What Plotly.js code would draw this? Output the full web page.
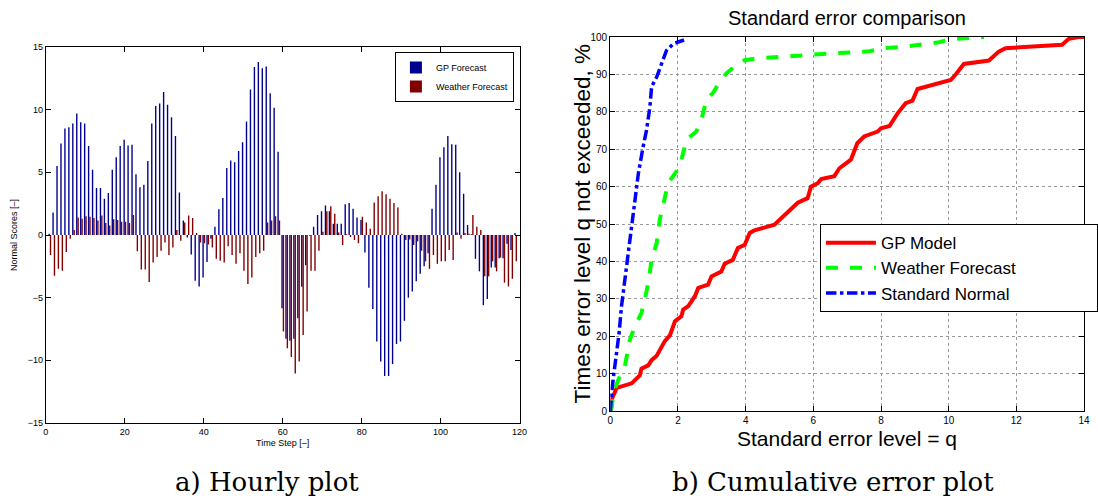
<!DOCTYPE html>
<html>
<head>
<meta charset="utf-8">
<script src="https://cdn.plot.ly/plotly-3.0.1.min.js"></script>
<style>html,body{margin:0;padding:0;background:#fff;}#chart{width:1098px;height:502px;}</style>
</head>
<body>
<div id="chart"></div>
<script>
// ---- Left panel: hourly normal scores ----
const timeSteps = [1,2,3,4,5,6,7,8,9,10,11,12,13,14,15,16,17,18,19,20,21,22,23,24,25,26,27,28,29,30,
31,32,33,34,35,36,37,38,39,40,41,42,43,44,45,46,47,48,49,50,51,52,53,54,55,56,57,58,59,60,
61,62,63,64,65,66,67,68,69,70,71,72,73,74,75,76,77,78,79,80,81,82,83,84,85,86,87,88,89,90,
91,92,93,94,95,96,97,98,99,100,101,102,103,104,105,106,107,108,109,110,111,112,113,114,115,116,117,118,119];

const gpForecast = [0.1,
1.8,5.5,7.3,8.5,8.6,8.9,9.7,9.0,8.9,7.1,5.2,3.75,3.75,2.9,3.35,5.2,6.2,7.1,7.6,7.15,7.2,4.85,3.8,4.0,5.9,8.9,10.3,10.5,11.4,
10.4,9.4,7.9,3.4,1.15,-0.2,-1.55,-3.65,-4.1,-3.4,-2.15,-0.3,0.65,2.05,2.95,5.35,5.95,5.8,6.7,7.4,9.05,11.6,13.4,13.8,13.3,13.45,11.3,10.15,6.65,-5.85,
-8.27,-8.43,-8.27,-6.65,-4.12,-2.42,
-0.05,
0.66,1.6,1.9,2.35,1.9,0.9,0.9,0.9,2.45,2.55,2.1,1.4,1.2,
-1.4,-4.2,-5.9,-8.5,-10.1,-11.25,-11.25,-10.3,-8.7,-8.5,-6.85,-5.0,-4.5,-3.7,-3.1,-2.5,-1.45,
2.1,4.0,6.2,7.0,7.9,7.25,7.2,5.0,3.3,0.8,0.05,
-1.9,-2.9,-5.6,-5.1,-2.6,-2.6,-1.85,-1.85,-0.7,-1.2,0.15];

const weatherForecast = [
-1.6,-3.25,-2.7,-2.85,-1.35,-0.3,0.4,1.4,1.3,1.5,1.45,1.35,1.15,1.55,0.95,0.75,1.25,1.2,1.05,1.05,0.95,1.6,-1.3,-2.75,-2.75,-3.75,-2.2,-1.75,-1.25,-0.6,
-1.6,-1.0,0.4,-0.45,1.0,1.55,1.35,0.15,-0.6,-0.65,-0.75,-1.0,-1.9,-2.05,-2.2,-0.9,-1.6,-2.3,-1.45,-2.85,-3.9,-3.4,-1.75,-1.45,-1.25,1.0,1.15,1.5,1.15,-7.7,
-9.04,-9.73,-11.06,-10.1,-7.98,-6.1,
-2.85,-2.85,-1.25,0.25,1.9,2.3,1.7,0.2,-0.8,0.05,-0.15,-0.4,-0.65,1.45,1.0,0.5,2.6,3.1,3.5,3.25,2.9,2.55,2.2,0.1,
-0.4,-0.35,-0.8,-0.5,-1.25,-2.1,-2.7,-1.6,-2.3,-2.1,-2.1,-1.2,-2.0,0.2,-0.3,0.15,0.1,1.6,0.65,0.4,-3.3,-3.3,-2.1,-2.9,-1.8,-3.8,-4.1,-3.5,-2.1];

const leftXTicks = [0,20,40,60,80,100,120];
const leftYTicks = [-15,-10,-5,0,5,10,15];

// ---- Right panel: cumulative error ----
const gpModelQ = [0,0.04,0.19,0.63,0.87,0.92,1.12,1.22,1.37,1.61,1.76,1.91,2.1,2.15,2.3,2.5,2.6,2.89,2.99,3.28,3.38,3.62,3.77,3.97,4.12,4.26,4.85,5.0,5.29,5.54,5.83,5.93,6.13,6.23,6.62,6.77,7.11,7.3,7.5,7.9,8.0,8.25,8.49,8.73,8.93,9.08,10.06,10.2,10.45,10.65,11.19,11.48,11.68,13.35,13.55,13.84,14];
const gpModelP = [0,3.1,6.2,7.4,9.5,11.3,12.2,13.6,14.8,18.7,20.2,24,25.3,27.1,28,30.7,32.9,33.8,36,37.3,39.4,40.4,43.6,44.4,47.6,48.3,49.8,51.1,53.8,55.7,56.9,60,60.9,62,62.8,64.9,67.2,71.6,73.4,74.7,75.6,76.2,79.6,82.3,83,86.1,88.5,89.9,92.8,93.1,93.7,96.1,97,97.9,99.5,100,100];

const weatherQ = [0,0.04,0.09,0.24,0.43,0.58,0.73,0.92,1.02,1.12,1.22,1.37,1.46,1.61,1.71,1.95,2.1,2.25,2.54,2.69,2.84,3.03,3.18,3.43,3.67,3.97,4.26,5.05,5.93,6.52,7.6,8.09,8.68,9.67,10.06,10.35,11.04];
const weatherP = [0,0.9,4.9,8.4,12,19.1,22.7,26.2,29.8,34.2,40.4,44.9,51.1,57.3,60.9,64,67.1,72.5,74.7,77.8,83.2,85,87.2,90.3,92.1,93.8,94.2,94.7,95.3,95.6,96.1,97,97.4,98.5,99.4,99.6,100];

const normalQ = [0,0.02,0.06,0.12,0.19,0.26,0.33,0.43,0.53,0.63,0.73,0.83,0.97,1.07,1.17,1.22,1.37,1.51,1.66,1.86,2.1,2.18];
const normalP = [0,3.1,6.7,11.1,15.6,20.9,28,35.1,42.2,49.3,56.4,63.6,70.7,75.1,81.3,86.7,89.3,92.9,96.4,98.2,99.1,99.2];

const rightXTicks = [0,2,4,6,8,10,12,14];
const rightYTicks = [0,10,20,30,40,50,60,70,80,90,100];

const sans = 'Liberation Sans, Arial, sans-serif';
const serif = 'DejaVu Serif, Liberation Serif, serif';
const pad = '\u00a0\u00a0\u00a0\u00a0\u00a0\u00a0\u00a0\u00a0\u00a0\u00a0\u00a0\u00a0\u00a0\u00a0\u00a0\u00a0';

const traces = [
  {type:'bar', x:timeSteps, y:gpForecast, name:'GP Forecast', xaxis:'x', yaxis:'y', legend:'legend',
   marker:{color:'#00008F', line:{width:0}}},
  {type:'bar', x:timeSteps, y:weatherForecast, name:'Weather Forecast', xaxis:'x', yaxis:'y', legend:'legend',
   marker:{color:'#800000', line:{width:0}}},
  {type:'scatter', mode:'lines', x:gpModelQ, y:gpModelP, name:'GP Model', xaxis:'x2', yaxis:'y2', legend:'legend2',
   line:{color:'#FF0000', width:4}},
  {type:'scatter', mode:'lines', x:weatherQ, y:weatherP, name:'Weather Forecast' + pad, xaxis:'x2', yaxis:'y2', legend:'legend2',
   line:{color:'#00FF00', width:4, dash:'dash'}},
  {type:'scatter', mode:'lines', x:normalQ, y:normalP, name:'Standard Normal', xaxis:'x2', yaxis:'y2', legend:'legend2',
   line:{color:'#0000FF', width:3.5, dash:'dashdot'}}
];

const W = 1098, H = 502;
const layout = {
  width: W, height: H,
  margin:{l:0, r:0, t:0, b:0},
  paper_bgcolor:'#fff', plot_bgcolor:'#fff',
  barmode:'group', bargap:0.3, bargroupgap:0,
  showlegend:true,
  xaxis:{domain:[46/W, 521/W], range:[0,120], tickvals:leftXTicks, ticks:'inside', ticklen:5, tickcolor:'#000',
    showline:true, linecolor:'#000', linewidth:1, mirror:'ticks', showgrid:false, zeroline:false,
    tickfont:{family:sans, size:9, color:'#000'}, anchor:'y'},
  yaxis:{domain:[1-423/H, 1-47/H], range:[-15,15], tickvals:leftYTicks, ticks:'inside', ticklen:5, tickcolor:'#000',
    showline:true, linecolor:'#000', linewidth:1, mirror:'ticks', showgrid:false, zeroline:false,
    tickfont:{family:sans, size:9, color:'#000'}, anchor:'x'},
  xaxis2:{domain:[612/W, 1087/W], range:[0,14], tickvals:rightXTicks, ticks:'inside', ticklen:5, tickcolor:'#000',
    showline:true, linecolor:'#000', linewidth:1.2, mirror:'ticks', showgrid:true, gridcolor:'#999', griddash:'dot', gridwidth:1,
    zeroline:false, tickfont:{family:sans, size:10, color:'#000'}, anchor:'y2'},
  yaxis2:{domain:[1-411/H, 1-37/H], range:[0,100], tickvals:rightYTicks, ticks:'inside', ticklen:5, tickcolor:'#000',
    showline:true, linecolor:'#000', linewidth:1.2, mirror:'ticks', showgrid:true, gridcolor:'#999', griddash:'dot', gridwidth:1,
    zeroline:false, tickfont:{family:sans, size:10, color:'#000'}, anchor:'x2'},
  legend:{x:396/W, y:1-52/H, xanchor:'left', yanchor:'top', bgcolor:'#fff', bordercolor:'#000', borderwidth:1,
    font:{family:sans, size:9, color:'#000'}, tracegroupgap:0, itemwidth:30},
  legend2:{x:822/W, y:1-224/H, xanchor:'left', yanchor:'top', bgcolor:'#fff', bordercolor:'#000', borderwidth:1.2,
    font:{family:sans, size:17, color:'#000'}, tracegroupgap:0, itemwidth:50},
  annotations:[
    {text:'Normal Scores [–]', xref:'paper', yref:'paper', x:14/W, y:1-235/H, showarrow:false, textangle:-90,
     font:{family:sans, size:9, color:'#000'}, xanchor:'center', yanchor:'middle'},
    {text:'Time Step [–]', xref:'paper', yref:'paper', x:283/W, y:1-443/H, showarrow:false,
     font:{family:sans, size:9, color:'#000'}, xanchor:'center', yanchor:'middle'},
    {text:'Standard error comparison', xref:'paper', yref:'paper', x:849/W, y:1-18/H, showarrow:false,
     font:{family:sans, size:20, color:'#000'}, xanchor:'center', yanchor:'middle'},
    {text:'Standard error level = q', xref:'paper', yref:'paper', x:849/W, y:1-438/H, showarrow:false,
     font:{family:sans, size:21, color:'#000'}, xanchor:'center', yanchor:'middle'},
    {text:'Times error level q not exceeded, %', xref:'paper', yref:'paper', x:584/W, y:1-224/H, showarrow:false, textangle:-90,
     font:{family:sans, size:22.5, color:'#000'}, xanchor:'center', yanchor:'middle'},
    {text:'a) Hourly plot', xref:'paper', yref:'paper', x:268/W, y:1-482/H, showarrow:false,
     font:{family:serif, size:26, color:'#000'}, xanchor:'center', yanchor:'middle'},
    {text:'b) Cumulative error plot', xref:'paper', yref:'paper', x:835/W, y:1-482/H, showarrow:false,
     font:{family:serif, size:26, color:'#000'}, xanchor:'center', yanchor:'middle'}
  ]
};

Plotly.newPlot('chart', traces, layout, {displayModeBar:false, staticPlot:true});
</script>
</body>
</html>
